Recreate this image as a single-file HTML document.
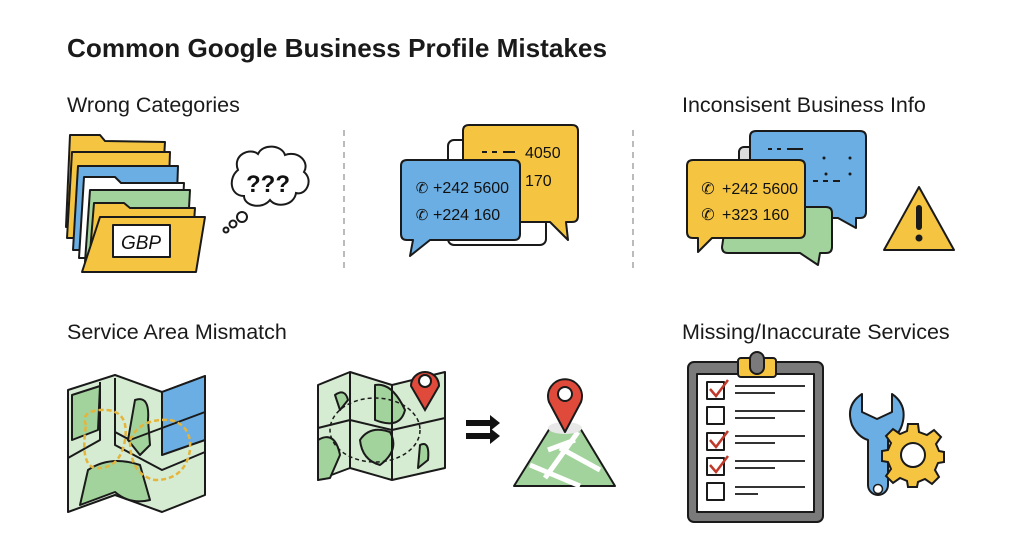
<!DOCTYPE html>
<html><head><meta charset="utf-8"><style>
html,body{margin:0;padding:0;background:#fff;}
svg{display:block;font-family:"Liberation Sans",sans-serif;}
</style></head><body>
<svg width="1024" height="559" viewBox="0 0 1024 559" xmlns="http://www.w3.org/2000/svg">
<rect width="1024" height="559" fill="#fff"/>
<g fill="#1a1a1a">
<text x="67" y="57" font-size="26" font-weight="bold" textLength="540" lengthAdjust="spacingAndGlyphs">Common Google Business Profile Mistakes</text>
<text x="67" y="112" font-size="21.5">Wrong Categories</text>
<text x="682" y="112" font-size="21.5">Inconsisent Business Info</text>
<text x="67" y="339" font-size="21.5">Service Area Mismatch</text>
<text x="682" y="339" font-size="21.5">Missing/Inaccurate Services</text>
</g>
<g stroke="#bbb" stroke-width="2" stroke-dasharray="6 5">
<line x1="344" y1="130" x2="344" y2="270"/><line x1="633" y1="130" x2="633" y2="270"/>
</g>
<!-- folders -->
<g stroke="#1a1a1a" stroke-width="2" stroke-linejoin="round">
<path d="M70 135 L100 135 L105 141 L165 142 L160 227 L66 227 Z" fill="#f5c542"/>
<path d="M72 152 L170 152 L167 238 L67 238 Z" fill="#f5c542"/>
<path d="M78 166 L178 166 L175 250 L73 250 Z" fill="#6aaee3"/>
<path d="M84 177 L115 177 L121 183 L184 183 L180 258 L79 258 Z" fill="#fff"/>
<path d="M90 190 L190 190 L186 262 L85 262 Z" fill="#a3d39c"/>
<path d="M94 203 L124 203 L130 208 L195 208 L191 265 L89 265 Z" fill="#f5c542"/>
<path d="M100 217 L205 217 L196 272 L82 272 Z" fill="#f5c542"/>
<rect x="113" y="225" width="57" height="32" fill="#fff"/>
</g>
<text x="141" y="249" font-size="19" font-style="italic" text-anchor="middle" fill="#111">GBP</text>
<!-- cloud -->
<g stroke="#1a1a1a" stroke-width="2" fill="#fff">
<path d="M238 170 C232 155 250 147 258 154 C263 143 282 145 285 155 C298 150 310 162 304 172 C314 180 306 196 296 193 C294 206 276 208 270 200 C262 210 244 206 244 196 C230 196 228 178 238 170 Z"/>
<circle cx="242" cy="217" r="5"/><circle cx="233" cy="224" r="3.5"/><circle cx="226" cy="230" r="2.5"/>
</g>
<text x="268" y="192" font-size="24" font-weight="bold" text-anchor="middle" fill="#111">???</text>
<!-- middle chats -->
<g stroke="#1a1a1a" stroke-width="2" stroke-linejoin="round">
<rect x="448" y="140" width="98" height="105" rx="6" fill="#fff"/>
<path d="M469 125 H572 Q578 125 578 131 V216 Q578 222 572 222 H566 L568 240 L550 222 H469 Q463 222 463 216 V131 Q463 125 469 125 Z" fill="#f5c542"/>
<path d="M407 160 H514 Q520 160 520 166 V234 Q520 240 514 240 H430 L410 256 L413 240 H407 Q401 240 401 234 V166 Q401 160 407 160 Z" fill="#6aaee3"/>
</g>
<g stroke="#1a1a1a" stroke-width="2"><line x1="482" y1="152" x2="487" y2="152"/><line x1="492" y1="152" x2="497" y2="152"/><line x1="503" y1="152" x2="515" y2="152"/></g>
<g font-size="16" fill="#111">
<text x="525" y="158">4050</text><text x="525" y="186">170</text>
<text x="433" y="193">+242 5600</text><text x="433" y="220">+224 160</text>
<text x="422" y="193" font-size="15" text-anchor="middle">✆</text><text x="422" y="220" font-size="15" text-anchor="middle">✆</text>
</g>
<!-- right chats -->
<g stroke="#1a1a1a" stroke-width="2" stroke-linejoin="round">
<rect x="739" y="147" width="40" height="60" rx="5" fill="#ddd"/>
<path d="M756 131 H860 Q866 131 866 137 V212 Q866 218 860 218 H856 L856 228 L838 218 H756 Q750 218 750 212 V137 Q750 131 756 131 Z" fill="#6aaee3"/>
<path d="M728 207 H826 Q832 207 832 213 V247 Q832 253 826 253 H820 L818 265 L800 253 H728 Q722 253 722 247 Z" fill="#a3d39c"/>
<path d="M693 160 H799 Q805 160 805 166 V232 Q805 238 799 238 H712 L698 252 L698 238 H693 Q687 238 687 232 V166 Q687 160 693 160 Z" fill="#f5c542"/>
<path d="M884 250 L919 187 L954 250 Z" fill="#f5c542"/>
</g>
<g stroke="#1a1a1a" stroke-width="2"><line x1="768" y1="149" x2="772" y2="149"/><line x1="777" y1="149" x2="781" y2="149"/><line x1="787" y1="149" x2="803" y2="149"/><line x1="813" y1="181" x2="818" y2="181"/><line x1="823" y1="181" x2="828" y2="181"/><line x1="833" y1="181" x2="840" y2="181"/></g>
<g fill="#1a1a1a"><circle cx="824" cy="158" r="1.5"/><circle cx="850" cy="158" r="1.5"/><circle cx="826" cy="174" r="1.5"/><circle cx="850" cy="174" r="1.5"/>
<rect x="916" y="205" width="6" height="25" rx="3"/><circle cx="919" cy="238" r="3.5"/></g>
<g font-size="16" fill="#111">
<text x="722" y="194">+242 5600</text><text x="722" y="220">+323 160</text>
<text x="708" y="194" text-anchor="middle">✆</text><text x="708" y="220" text-anchor="middle">✆</text>
</g>
<!-- map1 -->
<g stroke="#1a1a1a" stroke-width="2" stroke-linejoin="round">
<path d="M68 390 L115 375 L162 392 L205 376 L205 495 L162 512 L115 495 L68 512 Z" fill="#d6ecd2"/>
<path d="M162 392 L205 376 L205 440 L162 455 Z" fill="#6aaee3"/>
<path d="M72 395 L100 386 L98 430 L72 440 Z" fill="#a3d39c"/>
<path d="M135 400 Q150 395 148 420 L150 445 L140 455 L128 440 Z" fill="#a3d39c"/>
<path d="M88 470 Q110 455 140 465 L150 500 Q130 505 115 492 L80 505 Z" fill="#a3d39c"/>
<path d="M100 382 L100 440 L68 458 M115 378 L115 432 L130 440 L162 428 L205 412 M115 432 L115 445 L162 470 L205 452" fill="none"/>
</g>
<g fill="none" stroke="#e5b43a" stroke-width="2.5" stroke-dasharray="5 3">
<path d="M86 425 Q80 412 100 410 Q130 408 125 440 Q120 470 95 468 Q80 465 86 425 Z"/>
<path d="M130 440 Q140 418 170 420 Q192 425 190 450 Q185 480 155 480 Q130 475 130 440 Z"/>
</g>
<!-- map2 -->
<g stroke="#1a1a1a" stroke-width="2" stroke-linejoin="round">
<path d="M318 385 L350 372 L392 385 L445 372 L445 468 L392 480 L350 468 L318 480 Z" fill="#d6ecd2"/>
<path d="M335 395 Q345 388 348 400 L340 410 Z" fill="#a3d39c"/>
<path d="M375 385 Q392 382 405 410 Q400 430 375 420 Z" fill="#a3d39c"/>
<path d="M360 440 Q370 425 390 432 Q400 450 380 465 Q362 460 360 440 Z" fill="#a3d39c"/>
<path d="M318 440 Q335 430 340 455 L330 478 L318 480 Z" fill="#a3d39c"/>
<path d="M420 445 Q430 440 428 460 L418 468 Z" fill="#a3d39c"/>
<path d="M350 372 L350 468 M392 385 L392 480 M318 428 L350 420 L392 430 L445 418" fill="none"/>
</g>
<ellipse cx="375" cy="430" rx="45" ry="32" fill="none" stroke="#1a1a1a" stroke-width="1.5" stroke-dasharray="4 3"/>
<path d="M425 410 L411 386 A14 14 0 1 1 439 386 Z" fill="#e04a3b" stroke="#1a1a1a" stroke-width="2"/>
<circle cx="425" cy="381" r="6" fill="#fff" stroke="#1a1a1a" stroke-width="2"/>
<!-- arrows -->
<g fill="#111"><path d="M466 420 H490 V415 L500 423 L490 431 V426 H466 Z"/><path d="M466 433 H490 V428 L500 436 L490 444 V439 H466 Z"/></g>
<!-- pin pyramid -->
<g stroke="#1a1a1a" stroke-width="2" stroke-linejoin="round">
<path d="M550 428 L580 428 L615 486 L514 486 Z" fill="#a3d39c"/>
<path d="M548 450 L575 440 M530 465 L580 486 M560 448 L600 470 M578 432 L545 478" stroke="#fff" stroke-width="5" fill="none"/>
<ellipse cx="565" cy="428" rx="17" ry="6" fill="#e8e8e8" stroke="none"/>
<path d="M565 432 L549 402 A17 17 0 1 1 581 402 Z" fill="#e04a3b"/>
<circle cx="565" cy="394" r="7" fill="#fff"/>
</g>
<!-- clipboard -->
<g stroke="#1a1a1a" stroke-width="2" stroke-linejoin="round">
<rect x="688" y="362" width="135" height="160" rx="6" fill="#7a7a7a"/>
<rect x="697" y="374" width="117" height="138" fill="#fff"/>
<rect x="738" y="358" width="38" height="19" rx="3" fill="#f5c542"/>
<rect x="750" y="352" width="14" height="22" rx="7" fill="#7a7a7a"/>
<rect x="707" y="382" width="17" height="17" fill="#fff"/>
<rect x="707" y="407" width="17" height="17" fill="#fff"/>
<rect x="707" y="433" width="17" height="17" fill="#fff"/>
<rect x="707" y="458" width="17" height="17" fill="#fff"/>
<rect x="707" y="483" width="17" height="17" fill="#fff"/>
</g>
<g stroke="#c0392b" stroke-width="2.5" fill="none"><path d="M710 389 L716 396 L728 380"/><path d="M710 440 L716 447 L728 431"/><path d="M710 465 L716 472 L728 456"/></g>
<g stroke="#333" stroke-width="2">
<line x1="735" y1="386" x2="805" y2="386"/><line x1="735" y1="393" x2="775" y2="393"/>
<line x1="735" y1="411" x2="805" y2="411"/><line x1="735" y1="418" x2="775" y2="418"/>
<line x1="735" y1="436" x2="805" y2="436"/><line x1="735" y1="443" x2="775" y2="443"/>
<line x1="735" y1="461" x2="805" y2="461"/><line x1="735" y1="468" x2="775" y2="468"/>
<line x1="735" y1="487" x2="805" y2="487"/><line x1="735" y1="494" x2="758" y2="494"/>
</g>
<!-- wrench -->
<path d="M862 394 Q845 405 852 425 Q858 437 868 440 L868 485 A10 10 0 0 0 888 485 L888 440 Q898 437 902 425 Q908 405 892 394 L892 412 L877 419 L862 412 Z" fill="#6aaee3" stroke="#1a1a1a" stroke-width="2" stroke-linejoin="round"/>
<circle cx="878" cy="489" r="4.5" fill="#fff" stroke="#1a1a1a" stroke-width="1.5"/>
<!-- gear -->
<g transform="translate(913 454)">
<g fill="#f5c542" stroke="#1a1a1a" stroke-width="2">
<path d="M-5 -30 H5 L6 -22 L14 -19 L21 -24 L28 -17 L23 -10 L26 -3 L31 -2 V8 L25 9 L22 16 L26 23 L19 30 L12 25 L5 28 L4 33 H-5 L-6 27 L-13 24 L-20 29 L-27 22 L-22 15 L-25 8 L-31 7 V-3 L-25 -4 L-22 -11 L-27 -18 L-20 -25 L-13 -20 L-6 -23 Z"/>
</g>
<circle cx="0" cy="1" r="12" fill="#fff" stroke="#1a1a1a" stroke-width="2"/>
</g>
</svg>
</body></html>
